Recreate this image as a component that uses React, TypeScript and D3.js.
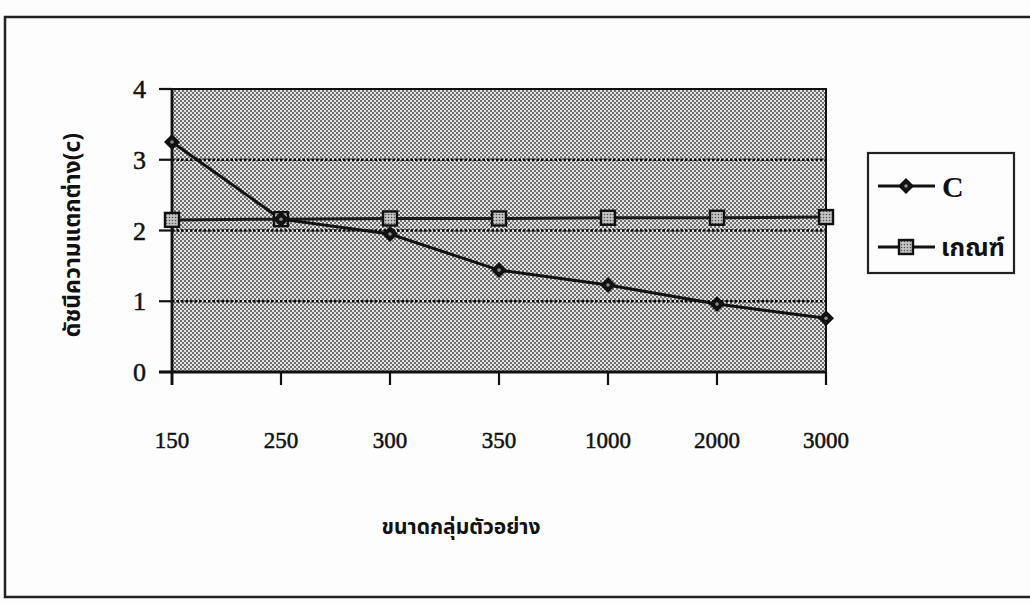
import React from "react";
import * as d3 from "d3";

const categories = ["150", "250", "300", "350", "1000", "2000", "3000"];
const cValues = [3.25, 2.16, 1.95, 1.44, 1.23, 0.96, 0.76];
const criterionValues = [2.15, 2.16, 2.17, 2.17, 2.18, 2.18, 2.19];
const yTicks = [0, 1, 2, 3, 4];
const seriesNames = ["C", "เกณฑ์"];
const yTitle = "ดัชนีความแตกต่าง(c)";
const xTitle = "ขนาดกลุ่มตัวอย่าง";

const W = 1030;
const H = 603;
const plot = { left: 172, right: 826, top: 89, bottom: 372 };

const thaiFont = "'Noto Sans Thai', 'Noto Serif Thai', Tahoma, 'DejaVu Sans', sans-serif";
const serifFont = "'Liberation Serif', 'DejaVu Serif', serif";

export default function App() {
  const x = d3.scalePoint<string>().domain(categories).range([plot.left, plot.right]);
  const y = d3.scaleLinear().domain([0, 4]).range([plot.bottom, plot.top]);
  const line = d3
    .line<number>()
    .x((_, i) => x(categories[i]) as number)
    .y((d) => y(d));

  const diamond = (cx: number, cy: number, key: string, r = 8) => (
    <g key={key}>
      <path d={`M${cx},${cy - r}L${cx + r},${cy}L${cx},${cy + r}L${cx - r},${cy}Z`} fill="#111" />
      <circle cx={cx} cy={cy} r={1.8} fill="#8a8a8a" />
    </g>
  );
  const square = (cx: number, cy: number, key: string, s = 14) => (
    <g key={key}>
      <rect x={cx - s / 2} y={cy - s / 2} width={s} height={s} fill="url(#sqdots)" stroke="#111" strokeWidth={2.4} />
    </g>
  );

  const textThick = { stroke: "#111", strokeWidth: 0.5 };

  return (
    <svg width={W} height={H} style={{ position: "absolute", left: 0, top: 0, background: "#fdfdfd" }}>
      <defs>
        <pattern id="halftone" width={4} height={4} patternUnits="userSpaceOnUse">
          <rect width={4} height={4} fill="#e2e2e2" />
          <circle cx={1} cy={1} r={0.95} fill="#404040" />
          <circle cx={3} cy={3} r={0.95} fill="#404040" />
        </pattern>
        <pattern id="sqdots" width={3} height={3} patternUnits="userSpaceOnUse">
          <rect width={3} height={3} fill="#c4c4c4" />
          <circle cx={1.5} cy={1.5} r={0.8} fill="#555" />
        </pattern>
      </defs>

      {/* outer frame */}
      <rect x={5} y={17} width={1040} height={580} fill="none" stroke="#222" strokeWidth={2.5} />

      {/* plot area */}
      <rect
        x={plot.left}
        y={plot.top}
        width={plot.right - plot.left}
        height={plot.bottom - plot.top}
        fill="url(#halftone)"
        stroke="#111"
        strokeWidth={2}
      />

      {/* gridlines */}
      {yTicks
        .filter((t) => t > 0 && t < 4)
        .map((t) => (
          <line
            key={"g" + t}
            x1={plot.left}
            x2={plot.right}
            y1={y(t)}
            y2={y(t)}
            stroke="#000"
            strokeWidth={2.4}
            strokeDasharray="2.5,2"
          />
        ))}

      {/* axes */}
      <line x1={plot.left} x2={plot.left} y1={plot.top} y2={plot.bottom + 13} stroke="#111" strokeWidth={2.8} />
      <line x1={plot.left - 13} x2={plot.right} y1={plot.bottom} y2={plot.bottom} stroke="#111" strokeWidth={2.8} />
      {yTicks.map((t) => (
        <g key={"yt" + t}>
          <line x1={plot.left - 13} x2={plot.left} y1={y(t)} y2={y(t)} stroke="#111" strokeWidth={2.2} />
          <text x={plot.left - 26} y={y(t) + 9} textAnchor="end" fontFamily={serifFont} fontSize={26} fill="#111" {...textThick}>
            {t}
          </text>
        </g>
      ))}
      {categories.map((c) => (
        <g key={"xt" + c}>
          <line x1={x(c)} x2={x(c)} y1={plot.bottom} y2={plot.bottom + 13} stroke="#111" strokeWidth={2.2} />
          <text x={x(c)} y={448} textAnchor="middle" fontFamily={serifFont} fontSize={23} fill="#111" {...textThick}>
            {c}
          </text>
        </g>
      ))}

      {/* series */}
      <path d={line(criterionValues) || ""} fill="none" stroke="#1a1a1a" strokeWidth={3} />
      <path d={line(cValues) || ""} fill="none" stroke="#111" strokeWidth={3} />
      {criterionValues.map((v, i) => square(x(categories[i]) as number, y(v), "s" + i))}
      {cValues.map((v, i) => diamond(x(categories[i]) as number, y(v), "d" + i))}

      {/* axis titles */}
      <text
        transform={`translate(80,235) rotate(-90)`}
        textAnchor="middle"
        fontFamily={thaiFont}
        fontWeight="bold"
        fontSize={23}
        fill="#111"
      >
        {yTitle}
      </text>
      <text x={461} y={534} textAnchor="middle" fontFamily={thaiFont} fontWeight="bold" fontSize={21} fill="#111">
        {xTitle}
      </text>

      {/* legend */}
      <rect x={868} y={153} width={146} height={120} fill="#fdfdfd" stroke="#222" strokeWidth={2.2} />
      <line x1={878} x2={935} y1={186} y2={186} stroke="#111" strokeWidth={3} />
      {diamond(906, 186, "ld")}
      <text x={942} y={197} fontFamily={serifFont} fontSize={30} fontWeight="bold" fill="#111">
        {seriesNames[0]}
      </text>
      <line x1={878} x2={935} y1={247} y2={247} stroke="#111" strokeWidth={3} />
      {square(906, 247, "ls")}
      <text x={941} y={256} fontFamily={thaiFont} fontSize={25} fontWeight="bold" fill="#111">
        {seriesNames[1]}
      </text>
    </svg>
  );
}
